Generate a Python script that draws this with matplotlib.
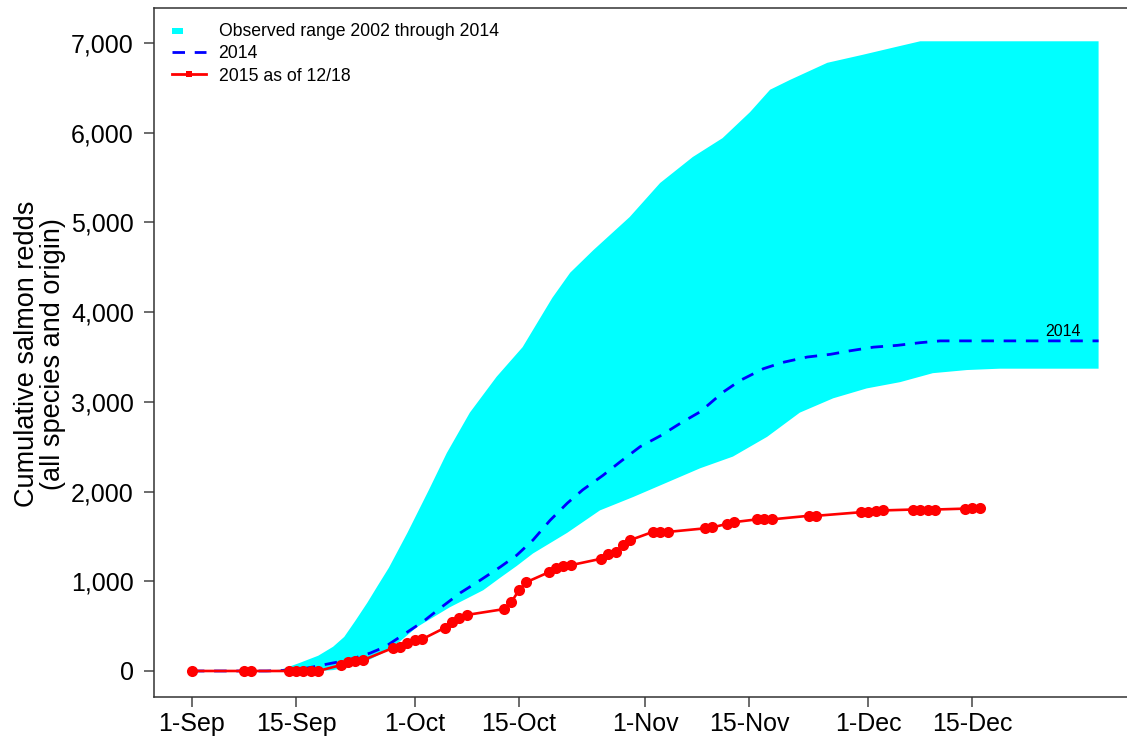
import matplotlib
matplotlib.use("Agg")
import matplotlib.pyplot as plt
from matplotlib.lines import Line2D
from matplotlib.patches import Patch, Rectangle
from matplotlib.legend_handler import HandlerPatch

plt.rcParams['font.family'] = ['Liberation Sans', 'DejaVu Sans']

# ---- data (x = days since 1-Sep) ----
x_tick_days = [0, 14, 30, 44, 61, 75, 91, 105]
x_tick_labels = ['1-Sep', '15-Sep', '1-Oct', '15-Oct', '1-Nov', '15-Nov', '1-Dec', '15-Dec']
y_ticks = [0, 1000, 2000, 3000, 4000, 5000, 6000, 7000]
y_tick_labels = ['0', '1,000', '2,000', '3,000', '4,000', '5,000', '6,000', '7,000']

range_upper_days = [9.5, 12, 14.5, 17, 19, 20.5, 22, 23.6, 25, 26.5, 29, 31.9, 34.3, 37.4, 41,
                    44.5, 48.5, 50.9, 54, 58.9, 63, 67.4, 71.4, 75.1, 77.8, 80.5, 85.5, 90.3,
                    94.9, 98, 122]
range_upper = [0, 15, 90, 170, 270, 380, 560, 760, 950, 1150, 1540, 2020, 2430, 2880, 3280,
               3610, 4160, 4440, 4690, 5060, 5440, 5730, 5940, 6230, 6480, 6590, 6780, 6870,
               6960, 7020, 7020]

range_lower_days = [9.5, 17, 19, 21, 23, 25.7, 28, 30.3, 32.5, 34.7, 39.2, 41.5, 43.7, 45.9,
                    50.5, 54.9, 59.4, 63.9, 68.4, 72.8, 77.4, 81.8, 86.3, 90.8, 95.3, 99.7,
                    104.3, 108.7, 122]
range_lower = [0, 0, 10, 40, 90, 200, 330, 490, 600, 710, 900, 1040, 1170, 1310,
               1540, 1790, 1940, 2100, 2260, 2390, 2610, 2880, 3040, 3150, 3220, 3320,
               3355, 3370, 3370]

days_2014 = [0, 10, 14, 16.3, 19, 21, 24, 26, 28, 31.1, 33.4, 36.1, 38.4, 41.5, 43.7, 45.9,
             48.2, 50.5, 52.6, 55.3, 57.6, 60.3, 63, 65.7, 68.4, 71.5, 73.8, 76.9, 79.5, 82.8,
             85.9, 88.6, 91.7, 94.9, 98, 100.7, 122]
redds_2014 = [0, 0, 10, 45, 90, 120, 200, 270, 380, 550, 700, 870, 990, 1160, 1290, 1460,
              1680, 1870, 2020, 2180, 2330, 2500, 2620, 2760, 2890, 3110, 3240, 3370, 3440, 3500,
              3530, 3570, 3610, 3630, 3660, 3680, 3680]

days_2015 = [0, 7, 8, 13, 14, 15, 16, 17, 20, 21, 22, 23, 27, 28, 29, 30, 31, 34, 35, 36, 37,
             42, 43, 44, 45, 48, 49, 50, 51, 55, 56, 57, 58, 59, 62, 63, 64, 69, 70, 72, 73,
             76, 77, 78, 83, 84, 90, 91, 92, 93, 97, 98, 99, 100, 104, 105, 106]
redds_2015 = [0, 0, 0, 0, 0, 0, 0, 0, 65, 95, 115, 120, 255, 270, 310, 345, 355, 480, 550, 590,
              625, 690, 770, 900, 990, 1100, 1150, 1170, 1180, 1250, 1300, 1330, 1400, 1460,
              1550, 1550, 1550, 1590, 1600, 1640, 1660, 1690, 1690, 1690, 1730, 1730, 1770,
              1775, 1780, 1790, 1800, 1800, 1800, 1800, 1810, 1815, 1820]

label_2014_day = 117.2
label_2014_value = 3790

# ---- figure ----
W, H = 1127, 738
fig = plt.figure(figsize=(W / 100, H / 100), dpi=100)
ax_left, ax_right, ax_top, ax_bottom = 154, 1135, 8, 697
ax = fig.add_axes([ax_left / W, (H - ax_bottom) / H, (ax_right - ax_left) / W, (ax_bottom - ax_top) / H])

poly_x = list(range_upper_days) + list(range_lower_days[::-1])
poly_y = list(range_upper) + list(range_lower[::-1])
ax.fill(poly_x, poly_y, color='#00FFFF', lw=0, zorder=1)

ax.plot(days_2014, redds_2014, color='#0000FF', lw=2.0, dashes=(4.5, 3.5), zorder=2)
ax.plot(days_2015, redds_2015, color='#FF0000', lw=1.9, marker='o', markersize=8,
        markeredgewidth=0, zorder=3)

ax.text(label_2014_day, label_2014_value, '2014', fontsize=11.5, ha='center', va='center', zorder=4)

ax.set_xlim(-5.1, 126.9)
ax.set_ylim(-290, 7391)
ax.set_xticks(x_tick_days)
ax.set_xticklabels(x_tick_labels)
ax.set_yticks(y_ticks)
ax.set_yticklabels(y_tick_labels)
ax.tick_params(axis='both', direction='out', length=7.5, width=1.1, color='#444444',
               labelsize=18)
ax.tick_params(axis='x', pad=3.5)
ax.tick_params(axis='y', pad=7)
for s in ax.spines.values():
    s.set_color('#333333')
    s.set_linewidth(1.1)

fig.text(40.5 / W, 1 - 354 / H, 'Cumulative salmon redds\n(all species and origin)',
         rotation=90, ha='center', va='center', multialignment='center',
         fontsize=19.5, linespacing=1.0)


def left_box(legend, orig_handle, xdescent, ydescent, width, height, fontsize):
    return Rectangle((-xdescent, -ydescent + height * 0.15), width * 0.33, height * 0.55)


handles = [
    Patch(facecolor='#00FFFF', edgecolor='none', label='Observed range 2002 through 2014'),
    Line2D([], [], color='#0000FF', lw=2.0, dashes=(4.5, 3.5), label='2014'),
    Line2D([], [], color='#FF0000', lw=2.0, marker='s', markersize=4, markeredgewidth=0,
           label='2015 as of 12/18'),
]
leg = ax.legend(handles=handles, loc='upper left', bbox_to_anchor=(160 / W, (H - 11) / H),
                bbox_transform=fig.transFigure, frameon=False, fontsize=12.7,
                handlelength=1.9, handletextpad=0.72, labelspacing=0.29, borderpad=0.2,
                handler_map={Patch: HandlerPatch(patch_func=left_box)})

fig.savefig('out.png', dpi=100)
